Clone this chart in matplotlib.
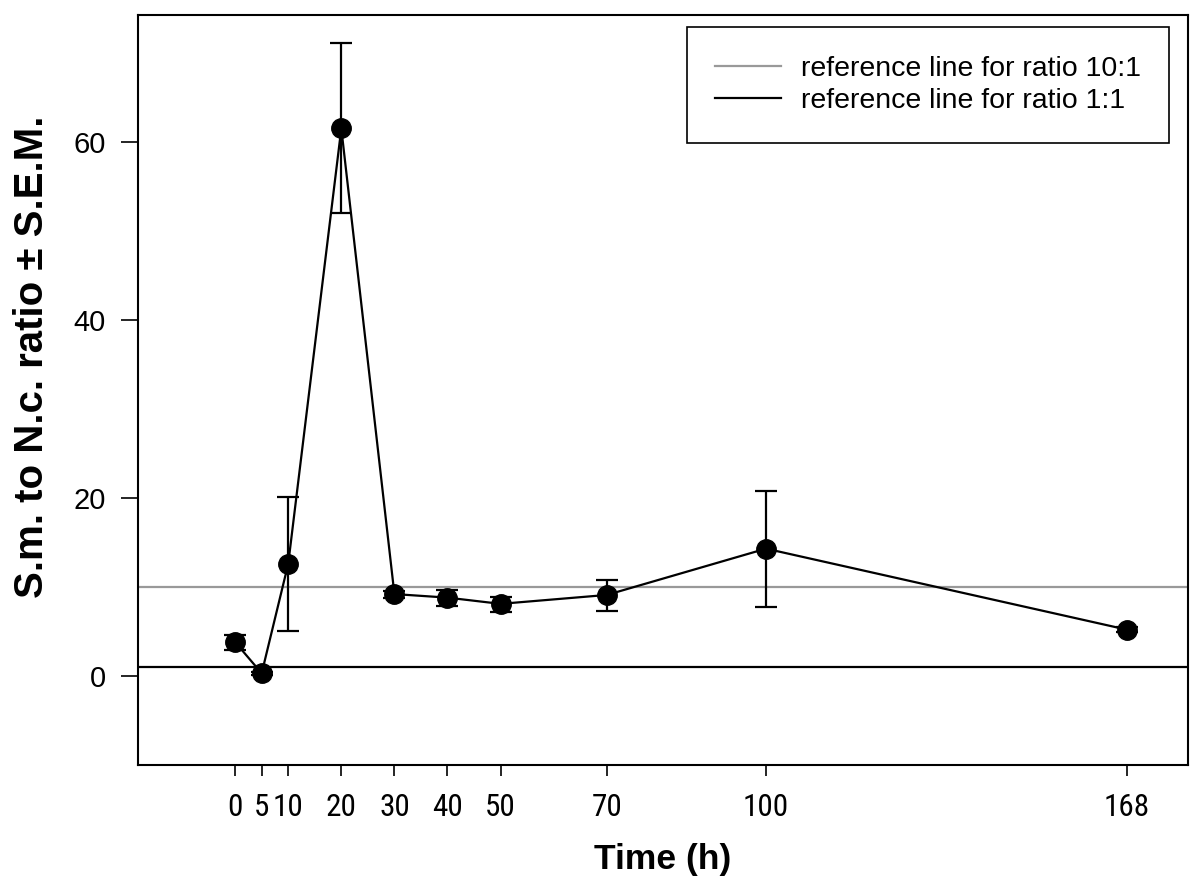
import matplotlib.pyplot as plt

# data
time_h = [0, 5, 10, 20, 30, 40, 50, 70, 100, 168]
ratio = [3.8, 0.3, 12.6, 61.5, 9.2, 8.8, 8.1, 9.1, 14.3, 5.2]
sem_up = [0.8, 0.2, 7.5, 9.6, 0.4, 0.9, 0.8, 1.7, 6.5, 0.3]
sem_low = [0.9, 0.2, 7.6, 9.5, 0.4, 0.9, 0.9, 1.8, 6.5, 0.3]
ref_10 = 10
ref_1 = 1
y_ticks = [0, 20, 40, 60]

narrow = ['Roboto Condensed', 'Liberation Sans', 'DejaVu Sans']
plt.rcParams['font.family'] = ['Liberation Sans', 'DejaVu Sans']

fig = plt.figure(figsize=(12, 8.85), dpi=100)
ax = fig.add_axes([0.115, 0.1356, 0.875, 0.848])

l10 = ax.axhline(ref_10, color='#999999', lw=1.6, zorder=1)
l1 = ax.axhline(ref_1, color='black', lw=1.6, zorder=1)

ax.errorbar(time_h, ratio, yerr=[sem_low, sem_up], fmt='o-', color='black',
            ms=14, lw=1.6, elinewidth=1.6, capsize=8, capthick=1.6, zorder=3)

ax.set_xlim(-18.3, 179.5)
ax.set_ylim(-10, 74.3)
ax.set_xticks(time_h)
ax.set_xticklabels([str(t) for t in time_h], fontfamily=narrow, fontsize=22.5)
ax.set_yticks(y_ticks)
ax.set_yticklabels([str(v) for v in y_ticks], fontsize=21)
ax.tick_params(axis='x', length=8, width=1.2, pad=12)
ax.tick_params(axis='y', length=12, width=1.2, pad=11)
for s in ax.spines.values():
    s.set_linewidth(1.5)

fig.text(663 / 1200, 1 - 859 / 885, 'Time (h)', fontsize=25.5,
         fontweight='bold', ha='center', va='center')
fig.text(32 / 1200, 1 - 357 / 885, 'S.m. to N.c. ratio ± S.E.M.', fontsize=29,
         fontweight='bold', rotation=90, ha='center', va='center')

leg = ax.legend([l10, l1], ['reference line for ratio 10:1', 'reference line for ratio 1:1'],
                loc='upper right', bbox_to_anchor=(0.982, 0.9827), borderaxespad=0,
                fontsize=20.5, fancybox=False, edgecolor='black', framealpha=1,
                handlelength=2.3, borderpad=1.0, labelspacing=0.22, handletextpad=0.7)
leg.get_frame().set_linewidth(1.2)

fig.savefig('out.png', dpi=100)
